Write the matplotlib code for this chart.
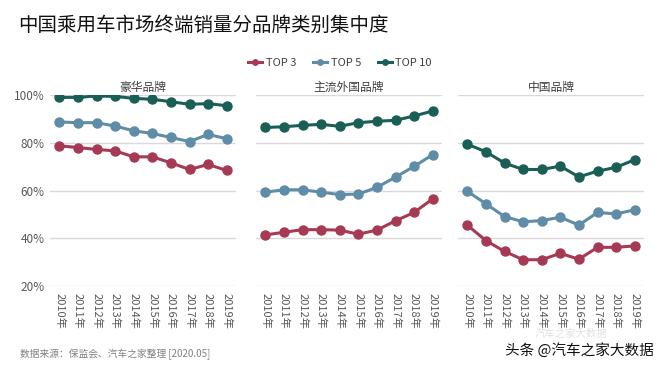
import matplotlib
matplotlib.use("Agg")
import matplotlib.pyplot as plt
import matplotlib.ticker as mticker

plt.rcParams['font.family'] = ['Noto Sans CJK SC', 'DejaVu Sans']

# data (share of sales, %)
years = ['2010年', '2011年', '2012年', '2013年', '2014年', '2015年', '2016年', '2017年', '2018年', '2019年']
panels = ['豪华品牌', '主流外国品牌', '中国品牌']
series_names = ['TOP 3', 'TOP 5', 'TOP 10']
colors = ['#a63a55', '#5f8ca6', '#1a5f55']

lux_top3 = [78.7, 78.0, 77.2, 76.6, 74.1, 74.1, 71.6, 68.8, 70.9, 68.4]
lux_top5 = [88.7, 88.4, 88.4, 87.0, 85.0, 83.9, 82.2, 80.5, 83.5, 81.7]
lux_top10 = [99.0, 99.0, 99.6, 99.4, 98.6, 98.2, 97.2, 96.1, 96.4, 95.5]

for_top3 = [41.4, 42.5, 43.6, 43.6, 43.4, 41.7, 43.4, 47.3, 50.8, 56.5]
for_top5 = [59.3, 60.3, 60.3, 59.3, 58.3, 58.5, 61.3, 65.6, 70.1, 75.0]
for_top10 = [86.4, 86.7, 87.3, 87.7, 86.9, 88.4, 89.0, 89.4, 91.2, 93.3]

cn_top3 = [45.5, 39.0, 34.5, 31.0, 31.0, 33.7, 31.2, 36.2, 36.2, 36.8]
cn_top5 = [59.7, 54.4, 49.1, 46.9, 47.4, 48.8, 45.5, 50.8, 50.2, 51.9]
cn_top10 = [79.4, 76.2, 71.5, 68.8, 68.8, 70.2, 65.7, 68.1, 69.7, 72.9]

data = [
    [lux_top3, lux_top5, lux_top10],
    [for_top3, for_top5, for_top10],
    [cn_top3, cn_top5, cn_top10],
]

fig = plt.figure(figsize=(6.6, 3.71), dpi=100)
fig.patch.set_facecolor('white')

lefts = [50 / 660, 256 / 660, 458 / 660]
bottom = 1 - 286 / 371
height = 191 / 371
width = 186 / 660

grey = '#595959'
x = list(range(len(years)))
lines = []
for i, (left, name) in enumerate(zip(lefts, panels)):
    ax = fig.add_axes([left, bottom, width, height])
    for vals, c, lab in zip(data[i], colors, series_names):
        ln, = ax.plot(x, [v / 100 for v in vals], color=c, lw=2.2, marker='o',
                      ms=6.5, label=lab, zorder=3)
        if i == 0:
            lines.append(ln)
    ax.set_ylim(0.2, 1.0)
    ax.set_xlim(-0.5, 9.5)
    ax.set_yticks([0.2, 0.4, 0.6, 0.8, 1.0])
    ax.yaxis.set_major_formatter(mticker.PercentFormatter(1.0, decimals=0))
    ax.grid(axis='y', color='#d9d9d9', lw=1, zorder=0)
    ax.set_xticks(x)
    ax.set_xticklabels(years, rotation=270, fontsize=8, color=grey)
    ax.tick_params(length=0, pad=6)
    ax.tick_params(axis='x', pad=5)
    if i == 0:
        ax.tick_params(axis='y', labelsize=8.5, labelcolor=grey, pad=4)
    else:
        ax.tick_params(axis='y', labelleft=False)
    for s in ax.spines.values():
        s.set_visible(False)
    ax.set_title(name, fontsize=8.5, color='#404040', pad=3)

fig.text(18 / 660, 1 - 25 / 371, '中国乘用车市场终端销量分品牌类别集中度',
         fontsize=14, color='#111111', va='center', ha='left')

fig.legend(handles=lines, loc='center', bbox_to_anchor=(340 / 660, 1 - 63 / 371),
           ncol=3, frameon=False, fontsize=8, handlelength=1.3, markerscale=0.6,
           columnspacing=1.5, handletextpad=0.3, labelcolor='#404040')

fig.text(20 / 660, 1 - 354 / 371, '数据来源：保监会、汽车之家整理 [2020.05]',
         fontsize=7, color='#808080', va='center', ha='left')

fig.text(535 / 660, 1 - 334 / 371, '汽车之家大数据', fontsize=7.5, color='#e2e2e2',
         va='center', ha='left')
fig.text(505 / 660, 1 - 350 / 371, '头条 @汽车之家大数据', fontsize=10.5, color='#111111',
         va='center', ha='left')

fig.savefig('out.png', dpi=100, facecolor='white')
